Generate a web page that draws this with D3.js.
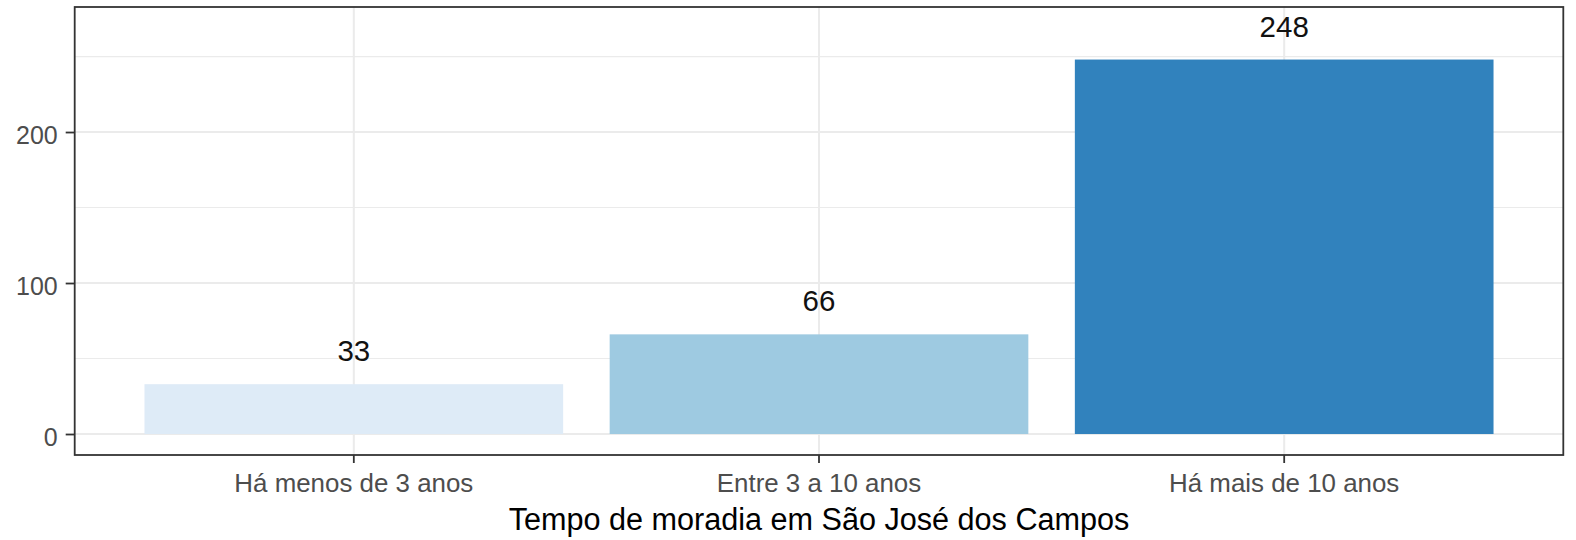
<!DOCTYPE html>
<html>
<head>
<meta charset="utf-8">
<script src="https://cdn.jsdelivr.net/npm/d3@7"></script>
<style>
  html, body { margin: 0; padding: 0; background: #fff; }
  svg { display: block; }
  text { font-family: "Liberation Sans", Arial, sans-serif; }
</style>
</head>
<body>
<svg id="chart" width="1576" height="540"></svg>
<script>
const categories = ["Há menos de 3 anos", "Entre 3 a 10 anos", "Há mais de 10 anos"];
const counts = [33, 66, 248];
const barColors = ["#DEEBF7", "#9ECAE1", "#3182BD"];
const yTicks = [0, 100, 200];
const yMinorTicks = [50, 150, 250];
const xTitle = "Tempo de moradia em São José dos Campos";

const svg = d3.select("#chart");
const panel = { left: 74.7, right: 1563.3, top: 7, bottom: 455 };

const x = d3.scaleBand()
  .domain(categories)
  .range([panel.left, panel.right])
  .paddingInner(0.1)
  .paddingOuter(0.15);

const y = d3.scaleLinear()
  .domain([-13.9, 282.8])
  .range([panel.bottom, panel.top]);

const g = svg.append("g");

// minor gridlines
g.selectAll("line.minor")
  .data(yMinorTicks)
  .join("line")
  .attr("x1", panel.left).attr("x2", panel.right)
  .attr("y1", d => y(d)).attr("y2", d => y(d))
  .attr("stroke", "#EBEBEB").attr("stroke-width", 1.2);

// major gridlines
g.selectAll("line.major")
  .data(yTicks)
  .join("line")
  .attr("x1", panel.left).attr("x2", panel.right)
  .attr("y1", d => y(d)).attr("y2", d => y(d))
  .attr("stroke", "#EBEBEB").attr("stroke-width", 2);

g.selectAll("line.vmajor")
  .data(categories)
  .join("line")
  .attr("x1", d => x(d) + x.bandwidth() / 2).attr("x2", d => x(d) + x.bandwidth() / 2)
  .attr("y1", panel.top).attr("y2", panel.bottom)
  .attr("stroke", "#EBEBEB").attr("stroke-width", 2);

// bars
g.selectAll("rect.bar")
  .data(categories)
  .join("rect")
  .attr("x", d => x(d))
  .attr("width", x.bandwidth())
  .attr("y", (d, i) => y(counts[i]))
  .attr("height", (d, i) => y(0) - y(counts[i]))
  .attr("fill", (d, i) => barColors[i]);

// value labels
g.selectAll("text.val")
  .data(categories)
  .join("text")
  .attr("x", d => x(d) + x.bandwidth() / 2)
  .attr("y", (d, i) => y(counts[i]) - 23)
  .attr("text-anchor", "middle")
  .attr("font-size", 29.5)
  .attr("fill", "#111")
  .text((d, i) => counts[i]);

// panel border
svg.append("rect")
  .attr("x", panel.left).attr("y", panel.top)
  .attr("width", panel.right - panel.left)
  .attr("height", panel.bottom - panel.top)
  .attr("fill", "none")
  .attr("stroke", "#333333")
  .attr("stroke-width", 1.8);

// y axis
const yAxis = d3.axisLeft(y).tickValues(yTicks).tickSize(9).tickPadding(8);
const ya = svg.append("g").attr("transform", `translate(${panel.left},0)`).call(yAxis);
ya.select(".domain").remove();
ya.selectAll(".tick line").attr("stroke", "#333333").attr("stroke-width", 1.8);
ya.selectAll(".tick text")
  .attr("font-size", 25)
  .attr("fill", "#4D4D4D")
  .attr("dy", "0.45em")
  .style("font-family", "'Liberation Sans', Arial, sans-serif");

// x axis
const xAxis = d3.axisBottom(x).tickSize(8).tickPadding(11);
const xa = svg.append("g").attr("transform", `translate(0,${panel.bottom})`).call(xAxis);
xa.select(".domain").remove();
xa.selectAll(".tick line").attr("stroke", "#333333").attr("stroke-width", 1.8);
xa.selectAll(".tick text")
  .attr("font-size", 25.9)
  .attr("fill", "#4D4D4D")
  .attr("dy", "0.69em")
  .style("font-family", "'Liberation Sans', Arial, sans-serif");

// x title
svg.append("text")
  .attr("x", (panel.left + panel.right) / 2)
  .attr("y", 530)
  .attr("text-anchor", "middle")
  .attr("font-size", 30.6)
  .attr("fill", "#000")
  .text(xTitle);
</script>
</body>
</html>
